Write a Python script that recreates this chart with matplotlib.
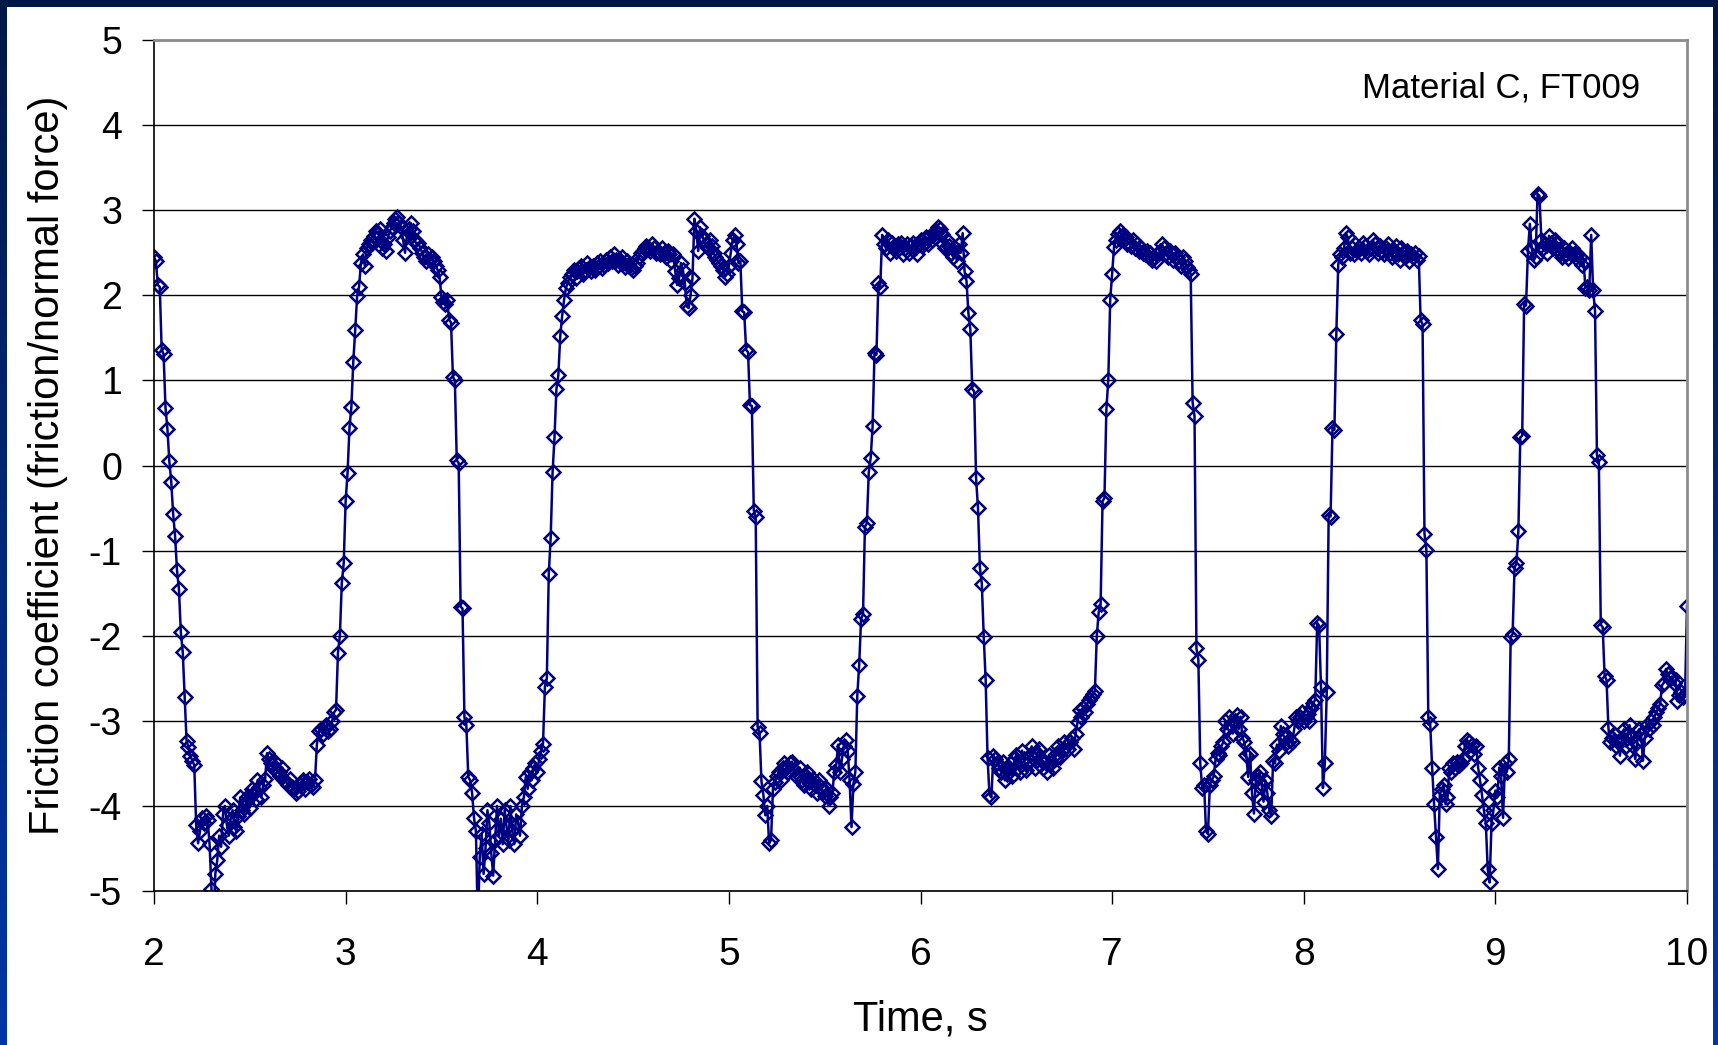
import numpy as np
import matplotlib
matplotlib.use('Agg')
import matplotlib.pyplot as plt
from matplotlib.colors import LinearSegmentedColormap
from matplotlib.patches import Rectangle

plt.rcParams['font.family'] = ['Liberation Sans', 'DejaVu Sans']
plt.rcParams['axes.unicode_minus'] = False

# friction coefficient, one sample every 0.01 s, grouped per second
mu_2s = [2.45, 2.40, 2.12, 2.10, 1.36, 1.31, 0.68, 0.43, 0.05, -0.19,
         -0.57, -0.83, -1.23, -1.45, -1.96, -2.19, -2.72, -3.24, -3.31, -3.41,
         -3.47, -3.52, -4.22, -4.44, -4.30, -4.14, -4.20, -4.12, -4.16, -4.45,
         -4.98, -5.40, -4.80, -4.64, -4.35, -4.48, -4.10, -4.00, -4.22, -4.35,
         -4.15, -4.05, -4.25, -4.30, -4.12, -3.90, -4.05, -4.10, -3.95, -3.88,
         -4.02, -3.80, -3.85, -3.92, -3.70, -3.78, -3.90, -3.75, -3.68, -3.38,
         -3.45, -3.50, -3.55, -3.48, -3.58, -3.60, -3.65, -3.55, -3.70, -3.72,
         -3.75, -3.68, -3.78, -3.80, -3.85, -3.82, -3.75, -3.72, -3.70, -3.80,
         -3.72, -3.68, -3.75, -3.78, -3.70, -3.28, -3.12, -3.10, -3.15, -3.08,
         -3.05, -3.12, -3.10, -3.00, -2.90, -2.87, -2.20, -2.00, -1.38, -1.15]
mu_3s = [-0.42, -0.09, 0.44, 0.69, 1.22, 1.59, 1.99, 2.10, 2.38, 2.48,
         2.35, 2.55, 2.60, 2.65, 2.62, 2.70, 2.75, 2.72, 2.78, 2.55,
         2.60, 2.52, 2.68, 2.75, 2.80, 2.85, 2.90, 2.92, 2.85, 2.80,
         2.65, 2.50, 2.70, 2.78, 2.85, 2.75, 2.65, 2.60, 2.62, 2.55,
         2.50, 2.45, 2.40, 2.48, 2.42, 2.45, 2.40, 2.35, 2.30, 2.22,
         1.98, 1.92, 1.90, 1.95, 1.71, 1.68, 1.04, 1.00, 0.06, 0.03,
         -1.66, -1.68, -2.96, -3.05, -3.66, -3.70, -3.85, -4.14, -4.30, -5.40,
         -4.60, -4.33, -4.80, -4.50, -4.05, -4.20, -4.55, -4.82, -4.40, -4.00,
         -4.35, -4.15, -4.45, -4.05, -4.25, -4.40, -4.00, -4.30, -4.45, -4.10,
         -4.20, -4.35, -4.00, -3.90, -3.66, -3.80, -3.60, -3.70, -3.55, -3.50]
mu_4s = [-3.60, -3.45, -3.35, -3.27, -2.60, -2.50, -1.28, -0.85, -0.08, 0.33,
         0.90, 1.06, 1.52, 1.76, 1.95, 2.09, 2.15, 2.22, 2.25, 2.30,
         2.20, 2.28, 2.32, 2.35, 2.25, 2.30, 2.38, 2.32, 2.28, 2.35,
         2.30, 2.38, 2.35, 2.40, 2.32, 2.36, 2.42, 2.38, 2.45, 2.40,
         2.49, 2.42, 2.36, 2.40, 2.45, 2.38, 2.33, 2.40, 2.35, 2.32,
         2.30, 2.35, 2.38, 2.45, 2.50, 2.52, 2.55, 2.58, 2.55, 2.52,
         2.60, 2.55, 2.50, 2.52, 2.48, 2.55, 2.50, 2.45, 2.52, 2.48,
         2.40, 2.49, 2.28, 2.12, 2.20, 2.38, 2.30, 2.15, 1.87, 1.85,
         2.00, 2.20, 2.90, 2.76, 2.52, 2.80, 2.70, 2.65, 2.60, 2.55,
         2.65, 2.58, 2.50, 2.45, 2.41, 2.38, 2.35, 2.30, 2.22, 2.25]
mu_5s = [2.35, 2.50, 2.65, 2.71, 2.60, 2.38, 2.40, 1.81, 1.80, 1.36,
         1.33, 0.71, 0.70, -0.53, -0.61, -3.07, -3.14, -3.71, -3.87, -4.11,
         -4.00, -4.44, -4.40, -3.80, -3.72, -3.65, -3.60, -3.70, -3.55, -3.50,
         -3.55, -3.60, -3.50, -3.48, -3.58, -3.65, -3.62, -3.55, -3.70, -3.75,
         -3.65, -3.60, -3.72, -3.80, -3.68, -3.75, -3.85, -3.70, -3.78, -3.82,
         -3.88, -3.80, -4.00, -3.90, -3.85, -3.60, -3.52, -3.28, -3.60, -3.45,
         -3.30, -3.23, -3.35, -3.70, -4.25, -3.74, -3.60, -2.71, -2.34, -1.80,
         -1.75, -0.72, -0.68, -0.08, 0.09, 0.46, 1.32, 1.30, 2.14, 2.10,
         2.71, 2.60, 2.55, 2.65, 2.50, 2.62, 2.58, 2.52, 2.60, 2.55,
         2.62, 2.48, 2.55, 2.60, 2.50, 2.58, 2.62, 2.55, 2.48, 2.60]
mu_6s = [2.65, 2.58, 2.62, 2.68, 2.60, 2.70, 2.65, 2.72, 2.75, 2.80,
         2.78, 2.72, 2.60, 2.55, 2.65, 2.58, 2.50, 2.45, 2.55, 2.40,
         2.60, 2.50, 2.73, 2.28, 2.17, 1.79, 1.60, 0.90, 0.87, -0.15,
         -0.50, -1.20, -1.39, -2.01, -2.52, -3.44, -3.87, -3.90, -3.41, -3.45,
         -3.50, -3.55, -3.60, -3.48, -3.70, -3.62, -3.55, -3.50, -3.65, -3.45,
         -3.40, -3.55, -3.60, -3.35, -3.45, -3.58, -3.50, -3.40, -3.30, -3.45,
         -3.55, -3.38, -3.33, -3.45, -3.55, -3.48, -3.60, -3.40, -3.50, -3.55,
         -3.45, -3.38, -3.30, -3.42, -3.35, -3.25, -3.30, -3.33, -3.25, -3.20,
         -3.33, -3.15, -3.01, -2.87, -2.95, -2.85, -2.90, -2.80, -2.75, -2.72,
         -2.69, -2.65, -2.00, -1.72, -1.63, -0.42, -0.38, 0.66, 1.01, 1.95]
mu_7s = [2.25, 2.57, 2.65, 2.72, 2.76, 2.70, 2.65, 2.68, 2.60, 2.62,
         2.58, 2.65, 2.55, 2.60, 2.52, 2.55, 2.50, 2.48, 2.52, 2.45,
         2.50, 2.42, 2.45, 2.40, 2.48, 2.52, 2.60, 2.55, 2.50, 2.45,
         2.52, 2.48, 2.42, 2.50, 2.45, 2.40, 2.35, 2.45, 2.40, 2.33,
         2.30, 2.25, 0.74, 0.58, -2.15, -2.28, -3.50, -3.79, -3.75, -4.30,
         -4.33, -3.75, -3.70, -3.65, -3.45, -3.38, -3.40, -3.30, -3.25, -3.00,
         -3.10, -2.96, -3.05, -3.15, -3.00, -2.93, -3.10, -2.95, -3.20, -3.25,
         -3.40, -3.66, -3.39, -3.85, -4.09, -3.70, -3.65, -3.60, -3.75, -3.95,
         -3.70, -3.85, -4.05, -4.12, -3.47, -3.50, -3.28, -3.35, -3.06, -3.15,
         -3.20, -3.25, -3.30, -3.22, -3.25, -3.10, -2.96, -3.00, -2.95, -2.90]
mu_8s = [-3.00, -2.95, -2.92, -3.00, -2.85, -2.79, -2.75, -1.85, -1.88, -2.60,
         -3.79, -3.50, -2.66, -0.58, -0.60, 0.44, 0.42, 1.55, 2.36, 2.49,
         2.45, 2.55, 2.73, 2.68, 2.50, 2.55, 2.48, 2.60, 2.52, 2.55,
         2.50, 2.62, 2.58, 2.52, 2.48, 2.55, 2.65, 2.60, 2.55, 2.50,
         2.58, 2.52, 2.48, 2.55, 2.60, 2.50, 2.45, 2.52, 2.58, 2.48,
         2.42, 2.55, 2.50, 2.45, 2.52, 2.40, 2.48, 2.45, 2.50, 2.42,
         2.46, 1.71, 1.66, -0.80, -0.99, -2.96, -3.04, -3.55, -3.98, -4.36,
         -4.74, -3.87, -3.80, -3.75, -3.98, -3.90, -3.55, -3.60, -3.50, -3.55,
         -3.48, -3.52, -3.50, -3.45, -3.30, -3.22, -3.25, -3.35, -3.28, -3.39,
         -3.30, -3.55, -3.70, -3.87, -4.05, -4.20, -4.74, -4.90, -4.20, -4.05]
mu_9s = [-3.82, -3.90, -3.55, -3.65, -4.14, -3.50, -3.60, -3.45, -2.01, -1.98,
         -1.20, -1.15, -0.77, 0.33, 0.35, 1.90, 1.88, 2.52, 2.84, 2.55,
         2.41, 2.45, 3.19, 3.17, 2.65, 2.55, 2.60, 2.50, 2.70, 2.62,
         2.55, 2.65, 2.60, 2.52, 2.50, 2.45, 2.55, 2.48, 2.44, 2.50,
         2.55, 2.48, 2.50, 2.42, 2.45, 2.36, 2.40, 2.09, 2.10, 2.06,
         2.71, 2.06, 1.82, 0.12, 0.04, -1.87, -1.90, -2.47, -2.52, -3.09,
         -3.25, -3.20, -3.15, -3.30, -3.25, -3.41, -3.20, -3.10, -3.30, -3.15,
         -3.05, -3.20, -3.30, -3.45, -3.25, -3.10, -3.15, -3.47, -3.20, -3.05,
         -3.10, -3.00, -3.05, -2.95, -2.90, -2.85, -2.80, -2.58, -2.55, -2.39,
         -2.45, -2.50, -2.48, -2.55, -2.52, -2.77, -2.70, -2.66, -2.72, -2.68,
         -1.65]

mu = np.array(mu_2s + mu_3s + mu_4s + mu_5s + mu_6s + mu_7s + mu_8s + mu_9s)
t_start, dt = 2.0, 0.01
time = t_start + dt * np.arange(len(mu))

W, H = 1718, 1045
fig = plt.figure(figsize=(W / 100, H / 100), dpi=100)

# dark blue slide frame
bg = fig.add_axes([0, 0, 1, 1], zorder=-10)
bg.axis('off')
frame = LinearSegmentedColormap.from_list('frame', ['#001846', '#0036a6'])
bg.imshow(np.linspace(0, 1, 256).reshape(-1, 1), aspect='auto', cmap=frame,
          extent=[0, 1, 0, 1], origin='upper')
bg.add_patch(Rectangle((7 / W, 0), (W - 12) / W, (H - 7) / H,
                       facecolor='white', edgecolor='none'))
bg.set_xlim(0, 1)
bg.set_ylim(0, 1)

ax = fig.add_axes([154 / W, 1 - 891 / H, 1533 / W, 851 / H])
ax.plot(time, mu, color='#000080', lw=1.8, marker='D', ms=7.2,
        mfc='none', mec='#000080', mew=1.8)

ax.set_xlim(2, 10)
ax.set_ylim(-5, 5)
ax.set_xticks(range(2, 11))
ax.set_yticks(range(-5, 6))
ax.yaxis.grid(True, color='black', lw=1.0)
ax.set_axisbelow(True)
for s in ['top', 'right']:
    ax.spines[s].set_color('#8c8c8c')
    ax.spines[s].set_linewidth(2)
for s in ['left', 'bottom']:
    ax.spines[s].set_color('black')
    ax.spines[s].set_linewidth(1.2)
ax.tick_params(axis='y', direction='out', length=9, width=1, labelsize=27, pad=14)
ax.tick_params(axis='x', direction='out', length=9, width=1, labelsize=28, pad=24)

ax.set_xlabel('Time, s', fontsize=30, labelpad=19)
ax.set_ylabel('Friction coefficient (friction/normal force)', fontsize=30, labelpad=15)

ax.text(0.9693, 0.9436, 'Material C, FT009', transform=ax.transAxes,
        ha='right', va='center', fontsize=25)

fig.savefig('out.png', dpi=100)
